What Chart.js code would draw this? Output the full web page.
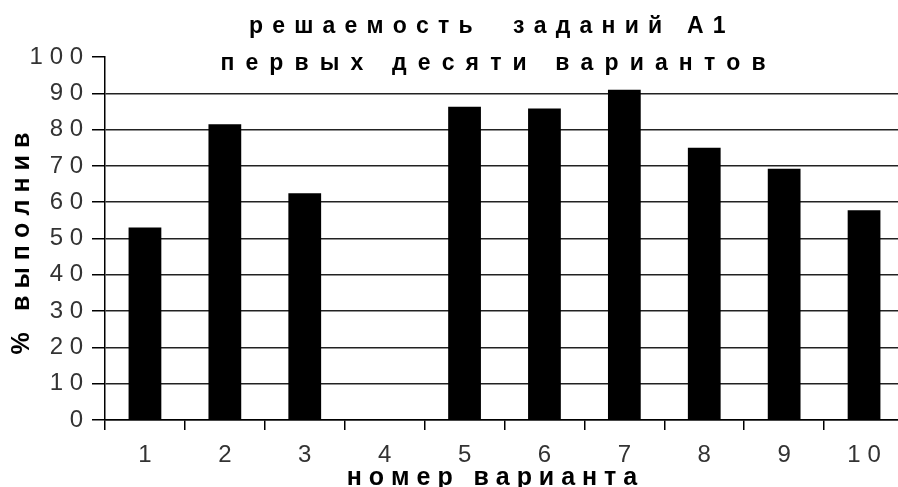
<!DOCTYPE html>
<html>
<head>
<meta charset="utf-8">
<script src="https://cdn.jsdelivr.net/npm/chart.js@4"></script>
<style>
  body { margin: 0; background: #fff; }
  #frame { width: 898px; height: 487px; overflow: hidden; }
  #box { position: relative; width: 906px; height: 487px; }
</style>
</head>
<body>
<div id="frame"><div id="box"><canvas id="chart"></canvas></div></div>
<script>
const variants = ['1', '2', '3', '4', '5', '6', '7', '8', '9', '10'];
const solvedPct = [53, 81.5, 62.5, 0, 86.3, 85.8, 91, 75, 69.2, 57.8];
const titleLines = ['решаемость  заданий А1', 'первых десяти вариантов'];
const xTitle = 'номер варианта';
const yTitle = '% выполнив';

const FONT = "'Liberation Sans', Arial, sans-serif";
const EN = '\u2002';
const THIN = '\u2009';
const THIN2 = '\u2009\u2009';

// old excel chart: every letter pushed apart
const spread = (s, gap) => [...s].join(gap);

new Chart(document.getElementById('chart'), {
  type: 'bar',
  data: {
    labels: variants,
    datasets: [{
      data: solvedPct,
      backgroundColor: '#000',
      barPercentage: 0.41,
      categoryPercentage: 1,
    }]
  },
  options: {
    responsive: true,
    maintainAspectRatio: false,
    animation: false,
    layout: { padding: { right: 2 } },
    plugins: {
      legend: { display: false },
      tooltip: { enabled: false },
      title: {
        display: true,
        fullSize: false,
        // trailing spaces nudge the centred lines a bit to the left
        text: [spread(titleLines[0], THIN2) + EN + EN + EN, spread(titleLines[1], THIN2 + '\u200A') + EN + EN],
        color: '#000',
        font: { family: FONT, size: 23, weight: 'bold', lineHeight: '37px' },
        padding: { top: 8.5, bottom: -25.5 },
      },
    },
    scales: {
      x: {
        grid: { offset: true, drawOnChartArea: false, tickLength: 10, tickColor: '#000', lineWidth: 1.5 },
        border: { color: '#000', width: 1.5 },
        ticks: {
          color: '#333',
          font: { family: FONT, size: 24 },
          padding: 11,
          maxRotation: 0,
          autoSkip: false,
          callback: function (v) { return spread(this.getLabelForValue(v), ' '); },
        },
        title: {
          display: true,
          text: spread(xTitle, ' ') + EN + EN,
          color: '#000',
          font: { family: FONT, size: 25, weight: 'bold', lineHeight: 1 },
          padding: { top: 0, bottom: -4 },
        },
        afterFit: s => { s.height = 67; },
      },
      y: {
        min: 0,
        max: 100,
        ticks: {
          stepSize: 10,
          color: '#333',
          font: { family: FONT, size: 24 },
          padding: 9,
          callback: v => spread(String(v), ' '),
        },
        grid: {
          color: c => (c.tick && c.tick.value === 100) ? 'rgba(0,0,0,0)' : '#222',
          lineWidth: 1.5,
          tickLength: 13,
          tickColor: '#000',
        },
        border: { color: '#000', width: 1.5 },
        title: {
          display: true,
          // trailing space pushes the rotated text down a little
          text: spread(yTitle, THIN + '\u200A') + THIN2,
          color: '#000',
          font: { family: FONT, size: 25, weight: 'bold', lineHeight: 1 },
          padding: { top: 9.5, bottom: 0 },
        },
        afterFit: s => { s.width = 105; },
      },
    },
  },
});
</script>
</body>
</html>
